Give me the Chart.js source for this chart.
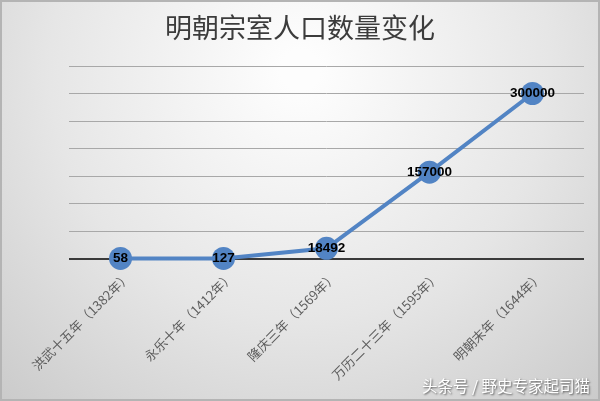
<!DOCTYPE html>
<html>
<head>
<meta charset="utf-8">
<script src="https://cdn.jsdelivr.net/npm/chart.js@4/dist/chart.umd.min.js"></script>
<style>
  html, body { margin: 0; padding: 0; background: #fff; }
  #wrap { width: 600px; height: 401px; }
</style>
</head>
<body>
<div id="wrap"><canvas id="myChart" width="600" height="401"></canvas></div>
<script>
const titleText = '明朝宗室人口数量变化';
const categories = ['洪武十五年（1382年）', '永乐十年（1412年）', '隆庆三年（1569年）', '万历二十三年（1595年）', '明朝末年（1644年）'];
const population = [58, 127, 18492, 157000, 300000];
const yMax = 350000;
const yStep = 50000;
const watermark = '头条号 / 野史专家起司猫';

// background, border, title and watermark
const decorPlugin = {
    id: 'decor',
    beforeDraw(chart) {
        const c = chart.ctx;
        const w = chart.width, h = chart.height;
        c.save();
        const g = c.createRadialGradient(300, 70, 20, 300, 70, 480);
        g.addColorStop(0, '#fdfdfd');
        g.addColorStop(0.5, '#e6e6e6');
        g.addColorStop(1, '#c6c6c6');
        c.fillStyle = g;
        c.fillRect(0, 0, w, h);
        c.strokeStyle = '#b4b4b4';
        c.lineWidth = 2;
        c.strokeRect(1, 1, w - 2, h - 2);
        c.fillStyle = '#3c3c3c';
        c.font = '27px "Noto Sans CJK SC"';
        c.textAlign = 'center';
        c.textBaseline = 'middle';
        c.fillText(titleText, 300, 28);
        c.restore();
    },
    afterDraw(chart) {
        const c = chart.ctx;
        c.save();
        c.font = '15.5px "Noto Sans CJK SC"';
        c.textAlign = 'right';
        c.textBaseline = 'middle';
        c.shadowColor = 'rgba(0,0,0,0.6)';
        c.shadowBlur = 2;
        c.shadowOffsetX = 1;
        c.shadowOffsetY = 1;
        c.fillStyle = '#ffffff';
        c.fillText(watermark, 590, 386);
        c.restore();
    }
};

// value labels centred on the points
const valueLabels = {
    id: 'valueLabels',
    afterDatasetsDraw(chart) {
        const c = chart.ctx;
        const meta = chart.getDatasetMeta(0);
        c.save();
        c.font = 'bold 13.5px "Liberation Sans"';
        c.fillStyle = '#000';
        c.textAlign = 'center';
        c.textBaseline = 'middle';
        meta.data.forEach((pt, i) => {
            c.fillText(String(population[i]), pt.x, pt.y);
        });
        c.restore();
    }
};

new Chart(document.getElementById('myChart'), {
    type: 'line',
    data: {
        labels: categories,
        datasets: [{
            data: population,
            borderColor: '#5284c4',
            backgroundColor: '#5284c4',
            borderWidth: 4,
            pointRadius: 11.5,
            pointHoverRadius: 11.5,
            pointBorderWidth: 0,
            tension: 0,
            clip: false
        }]
    },
    options: {
        responsive: false,
        maintainAspectRatio: false,
        animation: false,
        layout: {
            padding: { left: 69, right: 16, top: 66, bottom: 0 }
        },
        scales: {
            x: {
                offset: true,
                grid: { display: false, drawTicks: false },
                border: { display: false },
                ticks: {
                    autoSkip: false,
                    maxRotation: 45,
                    minRotation: 45,
                    labelOffset: 8,
                    padding: 10,
                    color: '#5e5e5e',
                    font: { size: 13, family: '"Noto Sans CJK SC"' }
                },
                afterFit: function(scale) { scale.height = 142.5; }
            },
            y: {
                min: 0,
                max: yMax,
                ticks: { display: false, stepSize: yStep },
                border: { display: false },
                grid: {
                    drawTicks: false,
                    color: ctx => ctx.tick && ctx.tick.value === 0 ? '#3a3a3a' : '#a8a8a8',
                    lineWidth: ctx => ctx.tick && ctx.tick.value === 0 ? 2 : 1
                },
                afterFit: function(scale) { scale.width = 0; }
            }
        },
        plugins: {
            legend: { display: false },
            title: { display: false },
            tooltip: { enabled: false }
        }
    },
    plugins: [decorPlugin, valueLabels]
});
</script>
</body>
</html>
